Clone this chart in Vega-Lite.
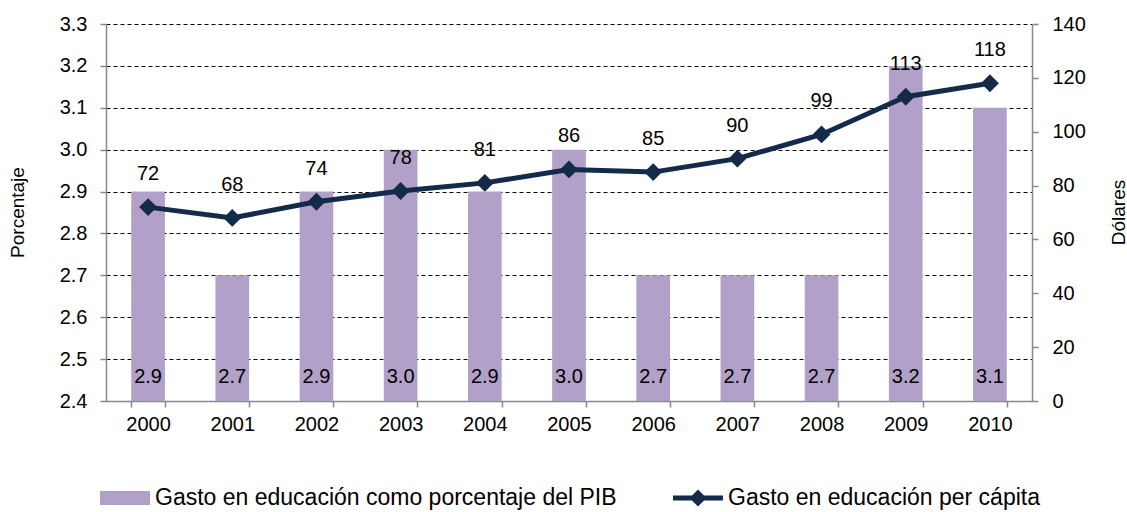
{
  "$schema": "https://vega.github.io/schema/vega-lite/v6.json",
  "width": 926,
  "height": 377,
  "autosize": {"type": "none"},
  "padding": {"left": 106, "top": 24, "right": 95, "bottom": 111},
  "background": "white",
  "config": {
    "font": "Liberation Sans",
    "view": {"stroke": null},
    "axis": {"labelColor": "black", "titleColor": "black", "domainColor": "#898989", "tickColor": "#898989", "domainWidth": 1.5, "tickWidth": 1.5}
  },
  "data": {
    "values": [
      {"year": "2000", "pct": 2.9, "usd": 72},
      {"year": "2001", "pct": 2.7, "usd": 68},
      {"year": "2002", "pct": 2.9, "usd": 74},
      {"year": "2003", "pct": 3.0, "usd": 78},
      {"year": "2004", "pct": 2.9, "usd": 81},
      {"year": "2005", "pct": 3.0, "usd": 86},
      {"year": "2006", "pct": 2.7, "usd": 85},
      {"year": "2007", "pct": 2.7, "usd": 90},
      {"year": "2008", "pct": 2.7, "usd": 99},
      {"year": "2009", "pct": 3.2, "usd": 113},
      {"year": "2010", "pct": 3.1, "usd": 118}
    ]
  },
  "encoding": {
    "x": {
      "field": "year", "type": "ordinal",
      "scale": {"paddingInner": 0.6, "paddingOuter": 0.3},
      "axis": {"title": null, "labelAngle": 0, "labelFontSize": 20, "labelPadding": 7, "tickSize": 6, "tickBand": "extent", "grid": false}
    }
  },
  "layer": [
    {
      "layer": [
        {
          "mark": {"type": "bar"},
          "encoding": {
            "y": {
              "field": "pct", "type": "quantitative",
              "scale": {"domain": [2.4, 3.3], "zero": false, "nice": false},
              "axis": {
                "title": "Porcentaje", "titleFontSize": 19, "titleFontWeight": "normal",
                "titleX": -89, "titleY": 188, "titleAlign": "center", "titleBaseline": "middle", "titleAngle": -90,
                "values": [2.4, 2.5, 2.6, 2.7, 2.8, 2.9, 3.0, 3.1, 3.2, 3.3],
                "format": ".1f", "labelFontSize": 20, "labelPadding": 13, "tickSize": 6,
                "grid": true, "gridColor": "black", "gridDash": [4, 3], "gridWidth": 1
              }
            },
            "y2": {"datum": 2.4},
            "color": {
              "datum": "Gasto en educación como porcentaje del PIB",
              "type": "nominal",
              "scale": {"domain": ["Gasto en educación como porcentaje del PIB", "Gasto en educación per cápita"], "range": ["#B1A0C7", "#132A48"]},
              "legend": {
                "title": null, "orient": "none", "direction": "horizontal",
                "legendX": -6, "legendY": 449,
                "labelFontSize": 23, "labelColor": "black", "labelLimit": 700, "labelOffset": 5,
                "columnPadding": 56,
                "symbolSize": 2500,
                "symbolType": "M-1,-0.28H1V0.28H-1Z",
                "symbolStrokeWidth": 0,
                "symbolOpacity": 1,
                "encode": {
                  "symbols": {
                    "update": {
                      "shape": {"signal": "datum.value === 'Gasto en educación per cápita' ? 'M-1,-0.1H-0.24L0,-0.34L0.24,-0.1H1V0.1H0.24L0,0.34L-0.24,0.1H-1Z' : 'M-1,-0.28H1V0.28H-1Z'"},
                      "fill": {"signal": "datum.value === 'Gasto en educación per cápita' ? '#132A48' : '#B1A0C7'"},
                      "strokeWidth": {"value": 0},
                      "size": {"value": 2500},
                      "opacity": {"value": 1}
                    }
                  }
                }
              }
            }
          }
        },
        {
          "mark": {"type": "text", "fontSize": 20, "baseline": "middle", "dy": -24, "color": "black"},
          "encoding": {
            "y": {"datum": 2.4, "type": "quantitative"},
            "text": {"field": "pct", "type": "quantitative", "format": ".1f"}
          }
        }
      ]
    },
    {
      "layer": [
        {
          "mark": {"type": "line", "strokeWidth": 5, "point": {"shape": "diamond", "size": 320, "filled": true}},
          "encoding": {
            "y": {
              "field": "usd", "type": "quantitative",
              "scale": {"domain": [0, 140], "nice": false},
              "axis": {
                "orient": "right", "title": "Dólares", "titleFontSize": 19, "titleFontWeight": "normal",
                "titleX": 86, "titleY": 188, "titleAlign": "center", "titleBaseline": "middle", "titleAngle": -90,
                "values": [0, 20, 40, 60, 80, 100, 120, 140],
                "labelFontSize": 20, "labelPadding": 14, "tickSize": 6, "grid": false
              }
            },
            "color": {"datum": "Gasto en educación per cápita", "type": "nominal"}
          }
        },
        {
          "mark": {"type": "text", "fontSize": 20, "baseline": "middle", "dy": -33, "color": "black"},
          "encoding": {
            "y": {"field": "usd", "type": "quantitative"},
            "text": {"field": "usd", "type": "quantitative"}
          }
        }
      ]
    }
  ],
  "resolve": {"scale": {"y": "independent"}}
}
